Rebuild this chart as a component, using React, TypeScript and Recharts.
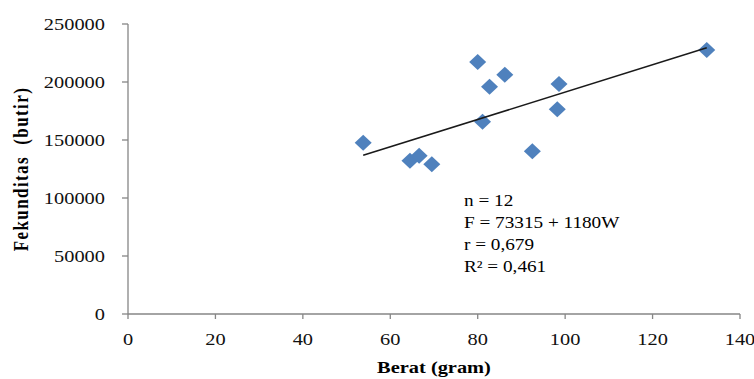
import { Scatter, ScatterChart, XAxis, YAxis } from "recharts";

// values
const beratGram = [53.8, 64.5, 66.6, 69.5, 80.0, 81.1, 82.7, 86.2, 92.5, 98.2, 98.6, 132.4];
const fekunditas = [147700, 132200, 136500, 129100, 217200, 165800, 196000, 206300, 140300, 176500, 198300, 227600];
const trendBerat = [53.8, 132.4];
const trendFekunditas = [136800, 229500];
const xTicks = [0, 20, 40, 60, 80, 100, 120, 140];
const yTicks = [0, 50000, 100000, 150000, 200000, 250000];
const statLines = ["n = 12", "F = 73315 + 1180W", "r = 0,679", "R² = 0,461"];

const points = beratGram.map((x, i) => ({ x, y: fekunditas[i] }));
const trend = trendBerat.map((x, i) => ({ x, y: trendFekunditas[i] }));

const FONT = "'Liberation Serif', 'Times New Roman', serif";
const AXIS = "#868686";
const STRETCH = 1.2;

function Diamond(props: any) {
  const { cx, cy } = props;
  if (cx == null || cy == null) return null;
  const rx = 8.5;
  const ry = 8;
  return (
    <polygon
      points={`${cx},${cy - ry} ${cx + rx},${cy} ${cx},${cy + ry} ${cx - rx},${cy}`}
      fill="#4F81BD"
    />
  );
}

function YTick(props: any) {
  const { x, y, payload } = props;
  return (
    <text
      transform={`translate(${x},${y}) scale(${STRETCH},1)`}
      textAnchor="end"
      dy="0.35em"
      fontSize={17}
      fontFamily={FONT}
      fill="#111"
    >
      {payload.value}
    </text>
  );
}

function XTick(props: any) {
  const { x, y, payload } = props;
  return (
    <text
      transform={`translate(${x},${y}) scale(${STRETCH},1)`}
      textAnchor="middle"
      dy="0.71em"
      fontSize={17}
      fontFamily={FONT}
      fill="#111"
    >
      {payload.value}
    </text>
  );
}

function XTitle(props: any) {
  const vb = props.viewBox || {};
  const cx = vb.x + vb.width / 2;
  return (
    <text
      transform={`translate(${cx},373) scale(${STRETCH},1)`}
      textAnchor="middle"
      fontSize={17}
      fontWeight="bold"
      fontFamily={FONT}
      fill="#000"
    >
      Berat (gram)
    </text>
  );
}

function YTitle(props: any) {
  const vb = props.viewBox || {};
  const cy = vb.y + vb.height / 2;
  return (
    <text
      transform={`translate(28,${cy}) scale(${STRETCH},1) rotate(-90)`}
      textAnchor="middle"
      fontSize={17}
      fontWeight="bold"
      letterSpacing={1.4}
      fontFamily={FONT}
      fill="#000"
      style={{ whiteSpace: "pre" }}
    >
      {"Fekunditas  (butir)"}
    </text>
  );
}

export default function App() {
  return (
    <div style={{ position: "absolute", left: 0, top: 0, width: 754, height: 379, background: "#fff" }}>
      <ScatterChart width={754} height={379} margin={{ top: 24, right: 14, bottom: 35, left: 0 }}>
        <XAxis
          type="number"
          dataKey="x"
          domain={[0, 140]}
          ticks={xTicks}
          height={30}
          tickSize={5}
          tickMargin={14}
          axisLine={{ stroke: AXIS, strokeWidth: 1.3 }}
          tickLine={{ stroke: AXIS, strokeWidth: 1.3 }}
          tick={<XTick />}
          label={<XTitle />}
        />
        <YAxis
          type="number"
          dataKey="y"
          domain={[0, 250000]}
          ticks={yTicks}
          width={128}
          tickSize={6}
          tickMargin={17}
          axisLine={{ stroke: AXIS, strokeWidth: 1.3 }}
          tickLine={{ stroke: AXIS, strokeWidth: 1.3 }}
          tick={<YTick />}
          label={<YTitle />}
        />
        <Scatter data={points} shape={<Diamond />} isAnimationActive={false} />
        <Scatter
          data={trend}
          line={{ stroke: "#1a1a1a", strokeWidth: 1.5 }}
          shape={() => <g />}
          isAnimationActive={false}
        />
      </ScatterChart>
      <div
        style={{
          position: "absolute",
          left: 464,
          top: 190,
          fontFamily: FONT,
          fontSize: 16,
          lineHeight: "22px",
          color: "#000",
          transform: `scaleX(${STRETCH})`,
          transformOrigin: "left top",
          whiteSpace: "pre",
        }}
      >
        {statLines.map((s) => (
          <div key={s}>{s}</div>
        ))}
      </div>
    </div>
  );
}
